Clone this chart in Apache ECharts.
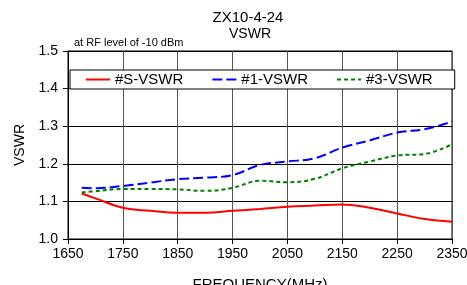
<!DOCTYPE html>
<html>
<head>
<meta charset="utf-8">
<script src="https://cdn.jsdelivr.net/npm/echarts@6/dist/echarts.min.js"></script>
<style>
  html, body { margin: 0; padding: 0; background: #fff; }
  #chart { width: 467px; height: 285px; }
</style>
</head>
<body>
<div id="chart"></div>
<script>
  // frequencies in MHz
  var freqs = [1675, 1700, 1750, 1800, 1850, 1900, 1950, 2000, 2050, 2100, 2150, 2200, 2250, 2300, 2350];
  var vswrS = [1.121, 1.108, 1.083, 1.075, 1.070, 1.070, 1.075, 1.080, 1.086, 1.089, 1.092, 1.083, 1.068, 1.053, 1.046];
  var vswr1 = [1.136, 1.135, 1.141, 1.150, 1.159, 1.163, 1.170, 1.197, 1.206, 1.215, 1.243, 1.262, 1.283, 1.292, 1.312];
  var vswr3 = [1.124, 1.127, 1.133, 1.133, 1.132, 1.128, 1.136, 1.155, 1.151, 1.160, 1.188, 1.206, 1.222, 1.226, 1.252];
  var seriesNames = ['#S-VSWR', '#1-VSWR', '#3-VSWR'];

  function pairs(vals) {
    var out = [];
    for (var i = 0; i < freqs.length; i++) out.push([freqs[i], vals[i]]);
    return out;
  }

  var font = 'Liberation Sans, Arial, sans-serif';
  var chart = echarts.init(document.getElementById('chart'));
  chart.setOption({
    animation: false,
    backgroundColor: '#fff',
    textStyle: { fontFamily: font },
    graphic: [
      { type: 'text', x: 248, y: 10, style: { text: 'ZX10-4-24', font: '15px ' + font, fill: '#000', textAlign: 'center' } },
      { type: 'text', x: 250, y: 27, style: { text: 'VSWR', font: '14px ' + font, fill: '#000', textAlign: 'center' } },
      { type: 'text', x: 74, y: 37, style: { text: 'at RF level of -10 dBm', font: '11px ' + font, fill: '#000' } }
    ],
    legend: {
      left: 70, top: 70,
      padding: [2, 22, 2, 15],
      itemGap: 28,
      itemWidth: 24, itemHeight: 15,
      borderColor: '#000', borderWidth: 1,
      backgroundColor: '#fff',
      itemStyle: { opacity: 0 },
      textStyle: { fontSize: 15, color: '#000', fontFamily: font },
      data: seriesNames
    },
    grid: { left: 68, right: 15, top: 51, bottom: 46, outerBoundsMode: 'none', show: true, borderColor: '#000', borderWidth: 1 },
    xAxis: {
      type: 'value', min: 1650, max: 2350, interval: 100,
      name: 'FREQUENCY(MHz)', nameLocation: 'middle', nameGap: 38,
      nameTextStyle: { fontSize: 15, color: '#000' },
      axisLine: { lineStyle: { color: '#000' } },
      axisTick: { length: 5, lineStyle: { color: '#000' } },
      axisLabel: { fontSize: 14, color: '#000', margin: 8, hideOverlap: false, formatter: function (v) { return String(v); } },
      splitLine: { lineStyle: { color: '#555', width: 1 } }
    },
    yAxis: {
      type: 'value', min: 1.0, max: 1.5, interval: 0.1,
      name: 'VSWR', nameLocation: 'middle', nameGap: 39,
      nameTextStyle: { fontSize: 14, color: '#000' },
      axisLine: { show: true, lineStyle: { color: '#000' } },
      axisTick: { show: true, length: 5, lineStyle: { color: '#000' } },
      axisLabel: { fontSize: 14, color: '#000', margin: 10, formatter: function (v) { return v.toFixed(1); } },
      splitLine: { lineStyle: { color: '#000', width: 1 } }
    },
    series: [
      { name: seriesNames[0], type: 'line', data: pairs(vswrS), smooth: 0.4, showSymbol: false, symbol: 'none',
        lineStyle: { color: '#ff0000', width: 2 }, itemStyle: { color: '#ff0000' } },
      { name: seriesNames[1], type: 'line', data: pairs(vswr1), smooth: 0.4, showSymbol: false, symbol: 'none',
        lineStyle: { color: '#0000ff', width: 2, type: [10, 4] }, itemStyle: { color: '#0000ff' } },
      { name: seriesNames[2], type: 'line', data: pairs(vswr3), smooth: 0.4, showSymbol: false, symbol: 'none',
        lineStyle: { color: '#008000', width: 2, type: [4, 3] }, itemStyle: { color: '#008000' } }
    ]
  });
</script>
</body>
</html>
